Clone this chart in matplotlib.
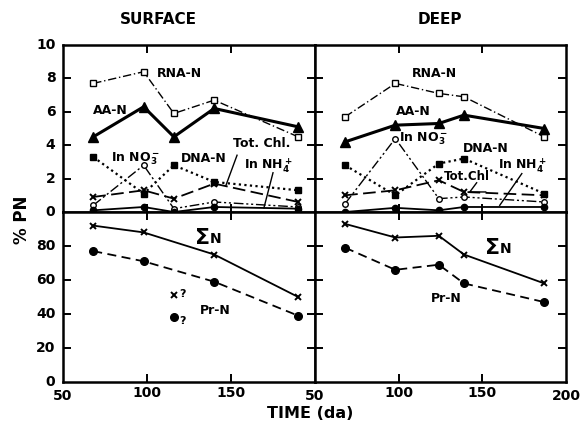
import matplotlib
matplotlib.use("Agg")
import matplotlib.pyplot as plt

plt.rcParams["font.family"] = ["DejaVu Sans"]
plt.rcParams["font.weight"] = "bold"
plt.rcParams["mathtext.default"] = "bf"

# ---- sampling times (days) ----
t_surf = [68, 98, 116, 140, 190]
t_deep = [68, 98, 124, 139, 187]
t_surf_low = [68, 98, 140, 190]

# ---- upper section: % PN ----
rna_surf = [7.7, 8.4, 5.9, 6.7, 4.5]
aa_surf = [4.5, 6.3, 4.5, 6.2, 5.1]
no3_surf = [0.4, 2.8, 0.2, 0.6, 0.3]
dna_surf = [3.3, 1.1, 2.8, 1.8, 1.3]
chl_surf = [0.9, 1.3, 0.8, 1.7, 0.6]
nh4_surf = [0.1, 0.3, 0.0, 0.3, 0.2]

rna_deep = [5.7, 7.7, 7.1, 6.9, 4.5]
aa_deep = [4.2, 5.2, 5.3, 5.8, 5.0]
no3_deep = [0.5, 4.4, 0.8, 0.9, 0.6]
dna_deep = [2.8, 1.0, 2.9, 3.2, 1.1]
chl_deep = [1.0, 1.3, 1.9, 1.2, 1.0]
nh4_deep = [0.0, 0.25, 0.1, 0.3, 0.3]

# ---- lower section: % PN ----
sum_surf = [92, 88, 75, 50]
pr_surf = [77, 71, 59, 39]
t_quest = 116
sum_quest = 51
pr_quest = 38

sum_deep = [93, 85, 86, 75, 58]
pr_deep = [79, 66, 69, 58, 47]

W, H = 584, 424
fig = plt.figure(figsize=(W / 100, H / 100), dpi=100)

x0, xm, x1 = 63, 315, 566
yt, ym, yb = 45, 212, 382


def box(l, r, t, b):
    return [l / W, 1 - b / H, (r - l) / W, (b - t) / H]


ax_ts = fig.add_axes(box(x0, xm, yt, ym))
ax_td = fig.add_axes(box(xm, x1, yt, ym))
ax_bs = fig.add_axes(box(x0, xm, ym, yb))
ax_bd = fig.add_axes(box(xm, x1, ym, yb))

for ax in (ax_ts, ax_td, ax_bs, ax_bd):
    ax.set_xlim(50, 200)
    for s in ax.spines.values():
        s.set_linewidth(1.8)
    ax.tick_params(direction="in", length=6, width=1.4, top=True, right=True,
                   labelsize=10, pad=3)
    ax.set_xticks([100, 150])

for ax in (ax_ts, ax_td):
    ax.set_ylim(0, 10)
    ax.set_yticks([2, 4, 6, 8])
    ax.tick_params(labelbottom=False)
for ax in (ax_bs, ax_bd):
    ax.set_ylim(0, 100)
    ax.set_yticks([20, 40, 60, 80])
for ax in (ax_td, ax_bd):
    ax.tick_params(labelleft=False)

ax_ts.tick_params(labelleft=False)
ax_bs.tick_params(labelleft=False)
ax_bs.set_xticks([100, 150])
ax_bs.set_xticklabels(["100", "150"])
ax_bd.set_xticks([100, 150])
ax_bd.set_xticklabels(["100", "150"])

# y tick labels written along the left edge
lab_kw = dict(fontsize=10, fontweight="bold", ha="right", va="center")
for v in [10, 8, 6, 4, 2, 0]:
    ax_ts.text(-0.03, v / 10, str(v), transform=ax_ts.transAxes, **lab_kw)
for v in [80, 60, 40, 20, 0]:
    ax_bs.text(-0.03, v / 100, str(v), transform=ax_bs.transAxes, **lab_kw)
# x tick labels at the panel edges
xl_kw = dict(fontsize=10, fontweight="bold", ha="center", va="top")
ax_bs.text(0, -0.04, "50", transform=ax_bs.transAxes, **xl_kw)
ax_bd.text(0, -0.04, "50", transform=ax_bd.transAxes, **xl_kw)
ax_bd.text(1, -0.04, "200", transform=ax_bd.transAxes, **xl_kw)

styles = {
    "rna": dict(ls=(0, (6, 2, 1, 2)), lw=1.0, marker="s", ms=4, mfc="white", mec="black", mew=1.0),
    "aa": dict(ls="-", lw=2.2, marker="^", ms=7, mfc="black", mec="black"),
    "no3": dict(ls=(0, (7, 2, 1.5, 2, 1.5, 2)), lw=1.0, marker="o", ms=4, mfc="white", mec="black", mew=1.0),
    "dna": dict(ls=(0, (1, 1.5)), lw=1.6, marker="s", ms=5, mfc="black", mec="black"),
    "chl": dict(ls=(0, (7, 3)), lw=1.3, marker="x", ms=5, mew=1.4),
    "nh4": dict(ls="-", lw=1.3, marker="o", ms=4.5, mfc="black", mec="black"),
}

for ax, t, rna, aa, no3, dna, chl, nh4 in (
    (ax_ts, t_surf, rna_surf, aa_surf, no3_surf, dna_surf, chl_surf, nh4_surf),
    (ax_td, t_deep, rna_deep, aa_deep, no3_deep, dna_deep, chl_deep, nh4_deep),
):
    ax.plot(t, rna, color="black", clip_on=False, **styles["rna"])
    ax.plot(t, aa, color="black", clip_on=False, **styles["aa"])
    ax.plot(t, no3, color="black", clip_on=False, **styles["no3"])
    ax.plot(t, dna, color="black", clip_on=False, **styles["dna"])
    ax.plot(t, chl, color="black", clip_on=False, **styles["chl"])
    ax.plot(t, nh4, color="black", clip_on=False, **styles["nh4"])

sum_style = dict(ls="-", lw=1.3, marker="x", ms=5, mew=1.4, color="black")
pr_style = dict(ls=(0, (5, 3)), lw=1.3, marker="o", ms=5.5, color="black")
ax_bs.plot(t_surf_low, sum_surf, **sum_style)
ax_bs.plot(t_surf_low, pr_surf, **pr_style)
ax_bs.plot([t_quest], [sum_quest], ls="none", marker="x", ms=5, mew=1.4, color="black")
ax_bs.plot([t_quest], [pr_quest], ls="none", marker="o", ms=5.5, color="black")
ax_bs.text(t_quest + 3, sum_quest + 1, "?", fontsize=8, fontweight="bold", va="center")
ax_bs.text(t_quest + 3, pr_quest - 2, "?", fontsize=8, fontweight="bold", va="center")
ax_bd.plot(t_deep, sum_deep, **sum_style)
ax_bd.plot(t_deep, pr_deep, **pr_style)

# series labels
lk = dict(fontsize=9, fontweight="bold", ha="center", va="center")
ax_ts.text(119.5, 8.3, "RNA-N", **lk)
ax_ts.text(78, 6.1, "AA-N", **lk)
ax_ts.text(93.5, 3.2, r"In NO$_3^-$", **lk)
ax_ts.text(134, 3.2, "DNA-N", **lk)
ax_ts.text(168, 4.1, "Tot. Chl.", **lk)
ax_ts.text(172, 2.8, r"In NH$_4^+$", **lk)
ax_ts.plot([153.6, 147], [3.4, 1.6], color="black", lw=1.0)
ax_ts.plot([175, 169.6], [2.35, 0.25], color="black", lw=1.0)

ax_td.text(121.5, 8.3, "RNA-N", **lk)
ax_td.text(109, 6.0, "AA-N", **lk)
ax_td.text(115, 4.4, r"In NO$_3^-$", **lk)
ax_td.text(152, 3.8, "DNA-N", **lk)
ax_td.text(174, 2.8, r"In NH$_4^+$", **lk)
ax_td.text(141, 2.1, "Tot.Chl", fontsize=8.5, fontweight="bold", ha="center", va="center")
ax_td.plot([146.6, 142.5, 152], [1.75, 1.2, 1.2], color="black", lw=1.0)
ax_td.plot([173.6, 160.4], [2.3, 0.4], color="black", lw=1.0)

ax_bs.text(133, 85, "Σ", fontsize=16, fontweight="bold", ha="center", va="center")
ax_bs.text(141, 84, "N", fontsize=10, fontweight="bold", ha="center", va="center")
ax_bs.text(140.5, 42, "Pr-N", **lk)
ax_bd.text(156, 79, "Σ", fontsize=16, fontweight="bold", ha="center", va="center")
ax_bd.text(164, 78, "N", fontsize=10, fontweight="bold", ha="center", va="center")
ax_bd.text(128.6, 49, "Pr-N", **lk)

# panel titles and axis titles
fig.text(158 / W, 1 - 19 / H, "SURFACE", fontsize=11, fontweight="bold", ha="center", va="center")
fig.text(440 / W, 1 - 19 / H, "DEEP", fontsize=11, fontweight="bold", ha="center", va="center")
fig.text(22 / W, 1 - 220 / H, "% PN", fontsize=12, fontweight="bold", rotation=90,
         ha="center", va="center")
fig.text(310 / W, 1 - 413 / H, "TIME (da)", fontsize=11.5, fontweight="bold", ha="center", va="center")

fig.savefig("out.png", dpi=100)
